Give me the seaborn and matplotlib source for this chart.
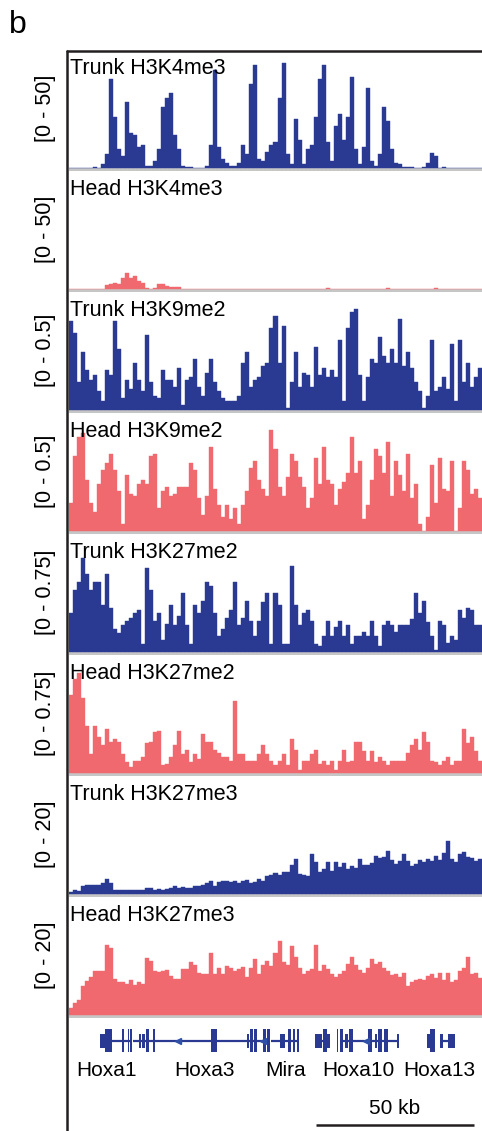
import matplotlib
matplotlib.use("Agg")
import matplotlib.pyplot as plt
import numpy as np
import pandas as pd
import seaborn as sns
from matplotlib.lines import Line2D
from matplotlib.patches import Rectangle
from matplotlib.transforms import blended_transform_factory

# genomic bin size (kb) of the coverage tracks
BIN_KB = 1.27

trunk_h3k4me3 = [
    0, 0, 0, 0, 0, 0.2, 0.3, 0, 1.5, 6,
    38, 22, 8, 5, 28, 15, 14, 9, 10, 1,
    0.8, 3, 8, 26, 30, 32, 14, 8, 1, 0.3,
    0.3, 0, 0, 0.2, 1, 10, 42, 9, 4, 2,
    1, 1, 2, 10, 6, 36, 44, 4, 3, 7,
    10, 11, 30, 45, 6, 1.5, 21, 12, 1.5, 8,
    10, 22, 38, 44, 11, 3, 18, 23, 12, 22,
    39, 8, 1.5, 9, 34, 3, 1, 6, 26, 20,
    8, 2, 1.5, 0.3, 0.3, 0.3, 0.2, 0, 0.3, 2,
    6.5, 5, 0, 0.3, 0, 0, 0, 0, 0, 0,
    0, 0, 0,
]
head_h3k4me3 = [
    0, 0, 0, 0, 0, 0, 0, 0, 0, 1.5,
    2, 2.5, 2, 4.5, 7, 4.5, 5.5, 3.5, 2.5, 0.3,
    0.2, 0.4, 2, 2.2, 1.2, 1, 0.8, 1, 0, 0,
    0, 0, 0, 0, 0, 0, 0, 0, 0, 0,
    0, 0, 0, 0, 0, 0, 0, 0, 0, 0,
    0, 0, 0, 0, 0, 0, 0, 0, 0, 0,
    0, 0, 0, 0, 0.5, 0, 0, 0, 0, 0,
    0, 0, 0, 0, 0, 0, 0, 0, 0, 0.4,
    0, 0, 0, 0, 0, 0, 0, 0, 0, 0,
    0, 0.5, 0, 0, 0, 0, 0, 0, 0, 0,
    0, 0, 0,
]
trunk_h3k9me2 = [
    0.38, 0.33, 0.12, 0.25, 0.17, 0.13, 0.15, 0.08, 0.04, 0.17,
    0.15, 0.38, 0.26, 0.05, 0.13, 0.09, 0.2, 0.13, 0.08, 0.32,
    0.12, 0.06, 0.05, 0.17, 0.13, 0.13, 0.1, 0.18, 0.02, 0.13,
    0.14, 0.22, 0.1, 0.06, 0.16, 0.22, 0.12, 0.08, 0.05, 0.04,
    0.04, 0.04, 0.06, 0.2, 0.25, 0.1, 0.13, 0.14, 0.19, 0.2,
    0.35, 0.4, 0.2, 0.36, 0.01, 0.12, 0.25, 0.1, 0.16, 0.15,
    0.1, 0.27, 0.15, 0.18, 0.14, 0.17, 0.14, 0.3, 0.04, 0.35,
    0.42, 0.43, 0.15, 0.04, 0.14, 0.22, 0.2, 0.31, 0.23, 0.2,
    0.26, 0.2, 0.39, 0.19, 0.25, 0.18, 0.12, 0.08, 0.01, 0.06,
    0.3, 0.08, 0.1, 0.14, 0.09, 0.28, 0.04, 0.3, 0.12, 0.2,
    0.1, 0.14, 0.18,
]
head_h3k9me2 = [
    0.12, 0.32, 0.4, 0.42, 0.22, 0.12, 0.08, 0.2, 0.26, 0.29,
    0.33, 0.26, 0.17, 0.03, 0.24, 0.16, 0.15, 0.2, 0.22, 0.2,
    0.32, 0.33, 0.1, 0.17, 0.19, 0.15, 0.16, 0.19, 0.19, 0.19,
    0.29, 0.26, 0.14, 0.07, 0.15, 0.36, 0.18, 0.11, 0.06, 0.11,
    0.05, 0.1, 0.03, 0.11, 0.17, 0.27, 0.3, 0.22, 0.18, 0.15,
    0.43, 0.35, 0.19, 0.15, 0.23, 0.33, 0.3, 0.23, 0.19, 0.1,
    0.14, 0.31, 0.2, 0.36, 0.22, 0.2, 0.11, 0.18, 0.21, 0.25,
    0.4, 0.25, 0.3, 0.05, 0.11, 0.22, 0.35, 0.32, 0.25, 0.38,
    0.15, 0.3, 0.24, 0.17, 0.33, 0.14, 0.2, 0.03, 0.0, 0.06,
    0.28, 0.12, 0.31, 0.18, 0.17, 0.3, 0.0, 0.1, 0.3, 0.26,
    0.16, 0.18, 0.14,
]
trunk_h3k27me2 = [
    0.25, 0.4, 0.45, 0.6, 0.5, 0.4, 0.45, 0.45, 0.3, 0.5,
    0.28, 0.15, 0.12, 0.17, 0.2, 0.22, 0.25, 0.27, 0.05, 0.54,
    0.4, 0.2, 0.25, 0.08, 0.18, 0.3, 0.17, 0.23, 0.38, 0.17,
    0.05, 0.3, 0.25, 0.33, 0.45, 0.42, 0.25, 0.1, 0.15, 0.22,
    0.27, 0.45, 0.17, 0.22, 0.33, 0.2, 0.1, 0.2, 0.32, 0.38,
    0.05, 0.38, 0.3, 0.05, 0.05, 0.55, 0.3, 0.17, 0.25, 0.27,
    0.2, 0.05, 0.04, 0.1, 0.2, 0.1, 0.16, 0.2, 0.1, 0.17,
    0.05, 0.1, 0.1, 0.13, 0.1, 0.2, 0.1, 0.04, 0.17, 0.2,
    0.17, 0.13, 0.17, 0.17, 0.17, 0.21, 0.38, 0.25, 0.33, 0.19,
    0.1, 0.01, 0.2, 0.17, 0.06, 0.1, 0.08, 0.27, 0.22, 0.28,
    0.27, 0.17, 0.17,
]
head_h3k27me2 = [
    0.5, 0.6, 0.64, 0.48, 0.3, 0.12, 0.3, 0.23, 0.18, 0.28,
    0.2, 0.22, 0.2, 0.12, 0.07, 0.04, 0.08, 0.08, 0.1, 0.19,
    0.2, 0.26, 0.27, 0.05, 0.06, 0.1, 0.18, 0.27, 0.12, 0.15,
    0.07, 0.12, 0.09, 0.25, 0.2, 0.2, 0.15, 0.13, 0.1, 0.1,
    0.08, 0.46, 0.12, 0.12, 0.08, 0.08, 0.08, 0.12, 0.18, 0.12,
    0.08, 0.05, 0.08, 0.12, 0.05, 0.22, 0.15, 0.02, 0.08, 0.08,
    0.12, 0.15, 0.06, 0.08, 0.05, 0.08, 0.02, 0.08, 0.15, 0.07,
    0.08, 0.2, 0.2, 0.14, 0.08, 0.14, 0.07, 0.1, 0.08, 0.05,
    0.08, 0.08, 0.08, 0.08, 0.13, 0.18, 0.22, 0.15, 0.26, 0.2,
    0.08, 0.07, 0.05, 0.08, 0.1, 0.05, 0.08, 0.08, 0.28, 0.19,
    0.23, 0.14, 0.08,
]
trunk_h3k27me3 = [
    0.3, 0.6, 0.5, 1.3, 1.5, 1.5, 1.5, 1.5, 1.8, 2.6,
    1.8, 0.7, 0.6, 0.6, 0.6, 0.6, 0.7, 0.6, 0.7, 1.0,
    1.0, 0.7, 0.8, 0.7, 0.9, 1.0, 1.3, 1.1, 1.2, 1.1,
    1.0, 1.3, 1.4, 1.6, 1.8, 2.3, 1.4, 2.0, 2.3, 2.2,
    2.1, 2.3, 1.8, 2.2, 2.4, 1.9, 2.0, 2.6, 2.3, 3.0,
    3.2, 3.6, 3.2, 3.8, 3.7, 5.0, 6.0, 3.4, 3.2, 3.0,
    6.8, 5.5, 3.8, 4.2, 5.5, 4.0, 5.5, 4.6, 5.3, 4.3,
    4.8, 4.4, 6.0, 5.0, 4.9, 5.3, 6.5, 6.2, 6.4, 7.3,
    5.8, 5.2, 5.6, 6.9, 5.6, 4.8, 5.2, 5.8, 5.4, 6.0,
    5.6, 6.5, 5.8, 7.0, 9.0, 6.0, 5.5, 6.8, 7.2, 6.3,
    6.2, 5.6, 5.9,
]
head_h3k27me3 = [
    1.2, 2.0, 2.5, 5.0, 5.8, 6.5, 7.5, 7.6, 7.5, 12.0,
    11.5, 6.2, 5.6, 5.6, 5.3, 5.9, 5.2, 5.7, 5.3, 9.8,
    9.2, 7.5, 7.3, 7.6, 7.7, 6.7, 6.1, 6.1, 7.9, 7.8,
    9.1, 8.6, 7.1, 7.0, 7.0, 10.6, 7.0, 8.1, 7.0, 8.4,
    8.1, 7.5, 7.8, 8.2, 6.5, 8.0, 9.5, 7.0, 8.5, 9.2,
    8.4, 10.6, 12.7, 9.0, 8.5, 11.8, 10.0, 8.1, 7.0, 7.5,
    7.8, 12.0, 7.5, 8.6, 7.8, 7.0, 6.5, 7.0, 7.5, 8.7,
    10.0, 8.6, 7.7, 7.2, 8.1, 9.5, 8.8, 9.0, 8.0, 7.5,
    6.8, 7.0, 6.5, 7.2, 5.0, 5.6, 5.9, 6.1, 5.9, 6.7,
    7.0, 6.4, 7.2, 6.0, 7.2, 5.6, 5.9, 7.5, 8.1, 10.0,
    7.0, 7.2, 6.4,
]

track_names = [
    "Trunk H3K4me3", "Head H3K4me3", "Trunk H3K9me2", "Head H3K9me2",
    "Trunk H3K27me2", "Head H3K27me2", "Trunk H3K27me3", "Head H3K27me3",
]
track_ranges = [
    "[0 - 50]", "[0 - 50]", "[0 - 0.5]", "[0 - 0.5]",
    "[0 - 0.75]", "[0 - 0.75]", "[0 - 20]", "[0 - 20]",
]
track_max = [50, 50, 0.5, 0.5, 0.75, 0.75, 20, 20]
track_values = [
    trunk_h3k4me3, head_h3k4me3, trunk_h3k9me2, head_h3k9me2,
    trunk_h3k27me2, head_h3k27me2, trunk_h3k27me3, head_h3k27me3,
]

# gene models (kb along the locus)
gene_names = ["Hoxa1", "Hoxa3", "Mira", "Hoxa10", "Hoxa13"]
gene_label_kb = [12.0, 43.0, 68.7, 91.8, 117.4]
exon_start_kb = [9.8, 11.4, 16.8, 18.7, 19.3, 22.2, 23.1, 24.4, 26.6, 44.9,
                 56.3, 57.3, 58.5, 61.4, 62.7, 66.8, 69.3, 70.9, 72.2, 77.8,
                 80.4, 81.6, 84.8, 85.8, 87.3, 88.6, 94.6, 96.8, 97.8, 99.7,
                 103.8, 113.3, 114.2, 117.4, 119.9]
exon_end_kb = [11.4, 13.6, 17.4, 19.1, 19.8, 22.8, 24.1, 25.3, 27.2, 46.8,
               57.0, 58.2, 59.5, 62.3, 63.6, 68.4, 70.3, 71.5, 72.8, 80.1,
               81.6, 82.6, 85.1, 86.7, 88.3, 89.9, 95.9, 97.5, 99.1, 100.9,
               104.4, 114.2, 115.8, 118.4, 122.2]
exon_coding = [False, True, True, True, True, False, False, True, True, True,
               False, True, True, True, True, False, True, True, True, False,
               True, False, True, True, False, True, True, False, True, True,
               False, False, True, False, False]
intron_start_kb = [9.8, 20.3, 27.2, 46.8, 63.9, 67.4, 77.8, 85.8, 89.9, 94.6, 117.4]
intron_end_kb = [19.8, 27.2, 46.8, 63.6, 67.4, 72.8, 82.6, 89.9, 94.6, 104.4, 122.2]
strand_arrow_kb = [34.5, 61.6, 94.0]
scale_bar_kb = [78.2, 128.2]
scale_bar_label = "50 kb"

TRUNK = "#2A3A92"
HEAD = "#F0696F"
GREY = "#C6C6C6"
FRAME = "#231F20"
W, H = 482, 1131

sns.set_theme(style="white")
plt.rcParams["font.family"] = ["Liberation Sans", "DejaVu Sans"]

fig = plt.figure(figsize=(W / 100, H / 100), dpi=100)


def px_axes(left, top, right, bottom):
    return fig.add_axes([left / W, 1 - bottom / H, (right - left) / W, (bottom - top) / H])


n_bins = len(trunk_h3k4me3)
span_kb = n_bins * BIN_KB
left_px, right_px = 69, 482

for i, (name, rng, vmax, vals) in enumerate(zip(track_names, track_ranges, track_max, track_values)):
    base = 168 + 121 * i
    ax = px_axes(left_px, base - 117, right_px, base + 3)
    color = TRUNK if name.startswith("Trunk") else HEAD
    frame = pd.DataFrame({"kb": (np.arange(len(vals)) + 0.5) * BIN_KB, "signal": vals})
    sns.barplot(data=frame, x="kb", y="signal", native_scale=True, width=1.0,
                color=color, saturation=1, errorbar=None, edgecolor=color,
                linewidth=0.3, ax=ax)
    low = -vmax * 3 / 117
    ax.axhspan(low, 0, color=GREY, lw=0, zorder=0)
    ax.set_ylim(low, vmax)
    ax.set_xlim(0, span_kb)
    ax.axis("off")
    ax.text(0.003, 1 - 7 / 120, name, transform=ax.transAxes, ha="left", va="top",
            fontsize=15.5, color="black")
    tr = blended_transform_factory(fig.transFigure, ax.transAxes)
    ax.text(46 / W, 63 / 120, rng, transform=tr, rotation=90, ha="center", va="center",
            fontsize=15.5, color="black")

# gene annotation track (y in pixel rows of the figure)
gax = px_axes(left_px, 1020, right_px, H)
gax.set_xlim(0, span_kb)
gax.set_ylim(H, 1020)
gax.axis("off")
gene_y = 1040.5
gax.hlines([gene_y] * len(intron_start_kb), intron_start_kb, intron_end_kb,
           color=TRUNK, lw=1.6)
for s, e, coding in zip(exon_start_kb, exon_end_kb, exon_coding):
    h = 23 if coding else 14
    gax.add_patch(Rectangle((s, gene_y - h / 2), e - s, h, color=TRUNK, lw=0))
gax.plot(strand_arrow_kb, [gene_y] * len(strand_arrow_kb), ls="none", marker="<",
         ms=5, color="#3050A8")
for g, x in zip(gene_names, gene_label_kb):
    gax.text(x, 1070, g, ha="center", va="center", fontsize=15, color="black")
gax.plot(scale_bar_kb, [1125, 1125], color=FRAME, lw=1.8, solid_capstyle="butt")
gax.text(np.mean(scale_bar_kb), 1109, scale_bar_label, ha="center", va="center",
         fontsize=15, color="black")

# outer frame lines and panel letter
fig.add_artist(Line2D([66.5 / W, 66.5 / W], [1 - 50.5 / H, 0], color=FRAME, lw=1.8))
fig.add_artist(Line2D([66.5 / W, 1], [1 - 50.5 / H, 1 - 50.5 / H], color=FRAME, lw=1.8))
fig.text(9 / W, 1 - 10 / H, "b", ha="left", va="top", fontsize=23, color="black")

fig.savefig("out.png", dpi=100)
